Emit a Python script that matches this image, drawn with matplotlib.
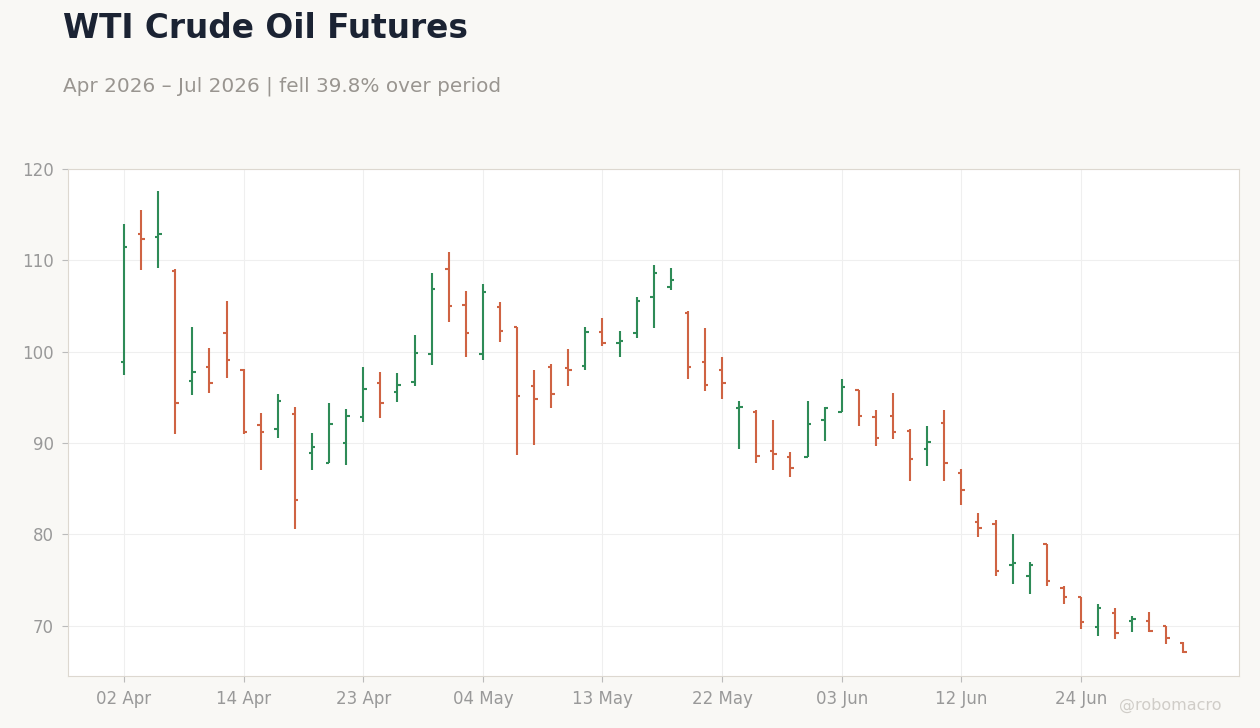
import matplotlib.pyplot as plt
import numpy as np

# daily OHLC, trading days from 02 Apr 2026 to 02 Jul 2026
opens = [98.9, 112.9, 112.6, 108.8, 96.8, 98.3, 102.0, 98.0, 92.0, 91.5,
         93.2, 88.9, 87.8, 90.0, 92.9, 96.6, 95.6, 96.7, 99.7, 109.1,
         105.1, 99.7, 104.9, 102.75, 96.3, 98.3, 98.2, 98.4, 102.2, 101.0,
         102.1, 106.0, 107.1, 104.2, 98.9, 98.05, 93.8, 93.45, 89.1, 88.5,
         88.5, 92.5, 93.45, 95.8, 92.8, 93.0, 91.3, 89.4, 92.25, 86.7,
         81.4, 81.1, 76.6, 75.5, 78.9, 74.1, 73.1, 69.9, 71.4, 70.5,
         70.5, 70.0, 68.1]
highs = [114.0, 115.5, 117.6, 109.1, 102.7, 100.4, 105.6, 98.1, 93.3, 95.4,
         93.9, 91.1, 94.4, 93.7, 98.3, 97.8, 97.7, 101.8, 108.6, 110.9,
         106.65, 107.4, 105.4, 102.75, 98.0, 98.6, 100.3, 102.7, 103.7, 102.3,
         106.0, 109.5, 109.2, 104.5, 102.6, 99.4, 94.6, 93.6, 92.5, 89.0,
         94.65, 93.9, 97.0, 95.85, 93.6, 95.5, 91.5, 91.9, 93.6, 87.2,
         82.3, 81.55, 80.0, 76.97, 78.97, 74.3, 73.1, 72.4, 71.9, 71.05,
         71.5, 70.0, 68.2]
lows = [97.5, 108.9, 109.2, 91.0, 95.3, 95.5, 97.1, 91.0, 87.0, 90.5,
        80.6, 87.0, 87.8, 87.6, 92.35, 92.7, 94.5, 96.3, 98.5, 103.3,
        99.4, 99.1, 101.1, 88.65, 89.8, 93.8, 96.2, 98.05, 100.6, 99.4,
        101.45, 102.6, 106.8, 97.0, 95.75, 94.8, 89.4, 87.8, 87.1, 86.3,
        88.45, 90.2, 93.4, 91.9, 89.7, 90.4, 85.9, 87.45, 85.8, 83.2,
        79.7, 75.5, 74.6, 73.5, 74.4, 72.4, 69.6, 68.9, 68.5, 69.3,
        69.3, 67.95, 67.0]
closes = [111.5, 112.3, 112.9, 94.4, 97.8, 96.6, 99.1, 91.2, 91.2, 94.65,
          83.8, 89.6, 92.1, 93.0, 95.9, 94.4, 96.4, 99.9, 106.9, 105.0,
          102.0, 106.5, 102.3, 95.1, 94.8, 95.4, 98.05, 102.2, 101.0, 101.2,
          105.5, 108.65, 107.8, 98.3, 96.4, 96.6, 94.0, 88.6, 88.85, 87.3,
          92.1, 93.8, 96.1, 93.0, 90.5, 91.25, 88.2, 90.1, 87.8, 84.9,
          80.75, 76.0, 76.85, 76.6, 74.85, 73.2, 70.4, 71.9, 69.2, 70.7,
          69.45, 68.65, 67.1]

tick_pos = [0, 7, 14, 21, 28, 35, 42, 49, 56]
tick_labels = ["02 Apr", "14 Apr", "23 Apr", "04 May", "13 May",
               "22 May", "03 Jun", "12 Jun", "24 Jun"]

up_col = "#2e8b57"
down_col = "#cf6343"
bg = "#f9f8f5"

fig = plt.figure(figsize=(12.6, 7.28), dpi=100, facecolor=bg)
ax = fig.add_axes([68 / 1260, 1 - 676 / 728, (1239 - 68) / 1260, (676 - 169) / 728])
ax.set_facecolor("white")

x = np.arange(len(opens))
w = 0.2
for i in x:
    c = up_col if closes[i] >= opens[i] else down_col
    ax.plot([i, i], [lows[i], highs[i]], color=c, lw=1.5, solid_capstyle="butt")
    ax.plot([i - w, i], [opens[i], opens[i]], color=c, lw=1.5, solid_capstyle="butt")
    ax.plot([i, i + w], [closes[i], closes[i]], color=c, lw=1.5, solid_capstyle="butt")

ax.set_xlim(-3.28, 65.25)
ax.set_ylim(64.5, 120)
ax.set_yticks([70, 80, 90, 100, 110, 120])
ax.set_xticks(tick_pos)
ax.set_xticklabels(tick_labels)
ax.grid(True, color="#efefef", lw=0.8)
ax.set_axisbelow(True)
for s in ax.spines.values():
    s.set_color("#ddd8d0")
ax.tick_params(colors="#999999", labelsize=12, length=4, pad=6)
ax.tick_params(axis="both", color="#bbbbbb")

fig.text(63 / 1260, 1 - 29 / 728, "WTI Crude Oil Futures", fontsize=23.6,
         fontweight="bold", color="#1b2333", va="center")
fig.text(63 / 1260, 1 - 86 / 728, "Apr 2026 \u2013 Jul 2026 | fell 39.8% over period",
         fontsize=14.4, color="#999590", va="center")
fig.text(1222 / 1260, 1 - 705 / 728, "@robomacro", fontsize=11.5,
         color="#d0cdc8", ha="right", va="center")

fig.savefig("out.png", facecolor=bg)
